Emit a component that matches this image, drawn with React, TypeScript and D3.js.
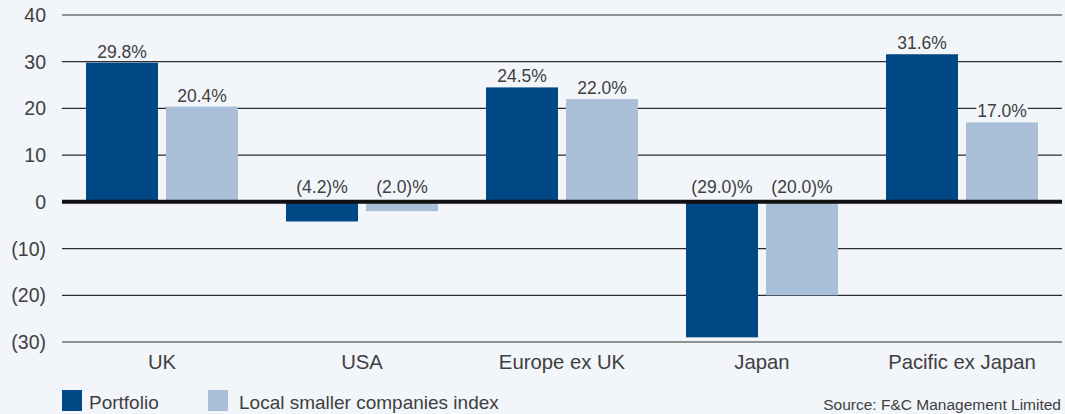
import React from "react";
import * as d3 from "d3";

const categories = ["UK", "USA", "Europe ex UK", "Japan", "Pacific ex Japan"];
const portfolio = [29.8, -4.2, 24.5, -29.0, 31.6];
const indexVals = [20.4, -2.0, 22.0, -20.0, 17.0];
const seriesNames = ["Portfolio", "Local smaller companies index"];
const yTicks = [40, 30, 20, 10, 0, -10, -20, -30];

const W = 1065, H = 414;
const BG = "#f2f5f9";
const C1 = "#004785";
const C2 = "#a8bfd7";
const TXT = "#404040";
const FONT = "'Liberation Sans', Arial, Helvetica, sans-serif";

const fmtTick = (v: number) => (v < 0 ? `(${Math.abs(v)})` : `${v}`);
const fmtVal = (v: number) => (v < 0 ? `(${Math.abs(v).toFixed(1)})%` : `${v.toFixed(1)}%`);

export default function App() {
  const x0 = d3.scaleBand().domain(categories).range([62, 1062]).paddingInner(0).paddingOuter(0);
  const y = d3.scaleLinear().domain([-30, 40]).range([342, 15]);
  const barW = 72, gap = 8;
  const inner = (barW * 2 + gap);
  const series = [portfolio, indexVals];
  const colors = [C1, C2];

  return (
    <svg width={W} height={H} style={{ position: "absolute", left: 0, top: 0 }} fontFamily={FONT}>
      <rect x={0} y={0} width={W} height={H} fill={BG} />
      {yTicks.filter((t) => t !== 0).map((t) => (
        <line key={t} x1={62} x2={1062} y1={y(t)} y2={y(t)} stroke="#2e2e2e" strokeWidth={1.2} />
      ))}
      {yTicks.map((t) => (
        <text key={"t" + t} x={46} y={y(t) + 7} textAnchor="end" fontSize={19.5} fill={TXT}>
          {fmtTick(t)}
        </text>
      ))}
      {categories.map((c, i) => {
        const start = (x0(c) as number) + (x0.bandwidth() - inner) / 2;
        return (
          <g key={c}>
            {series.map((s, k) => {
              const v = s[i];
              const bx = start + k * (barW + gap);
              const top = y(Math.max(v, 0));
              const h = Math.abs(y(v) - y(0));
              return <rect key={k} x={bx} y={top} width={barW} height={h} fill={colors[k]} />;
            })}
          </g>
        );
      })}
      <line x1={62} x2={1062} y1={y(0)} y2={y(0)} stroke="#111" strokeWidth={4} />
      {categories.map((c, i) => {
        const start = (x0(c) as number) + (x0.bandwidth() - inner) / 2;
        return (
          <g key={"l" + c}>
            {series.map((s, k) => {
              const v = s[i];
              const cx = start + k * (barW + gap) + barW / 2;
              const ly = v >= 0 ? y(v) - 5 : y(0) - 9;
              const label = fmtVal(v);
              const tw = label.length * 9.5;
              return (
                <g key={k}>
                  <rect x={cx - tw / 2 - 2} y={ly - 15} width={tw + 4} height={17} fill={BG} />
                  <text x={cx} y={ly} textAnchor="middle" fontSize={17.5} fill={TXT}>
                    {label}
                  </text>
                </g>
              );
            })}
          </g>
        );
      })}
      {categories.map((c) => (
        <text key={"c" + c} x={(x0(c) as number) + x0.bandwidth() / 2} y={369} textAnchor="middle" fontSize={20.3} fill={TXT}>
          {c}
        </text>
      ))}
      <rect x={62} y={390} width={20} height={21} fill={C1} />
      <text x={89} y={409} fontSize={19} fill={TXT}>{seriesNames[0]}</text>
      <rect x={208} y={390} width={20} height={21} fill={C2} />
      <text x={239} y={409} fontSize={19} fill={TXT}>{seriesNames[1]}</text>
      <text x={1061} y={410} textAnchor="end" fontSize={15.5} fill={TXT}>Source: F&amp;C Management Limited</text>
    </svg>
  );
}
